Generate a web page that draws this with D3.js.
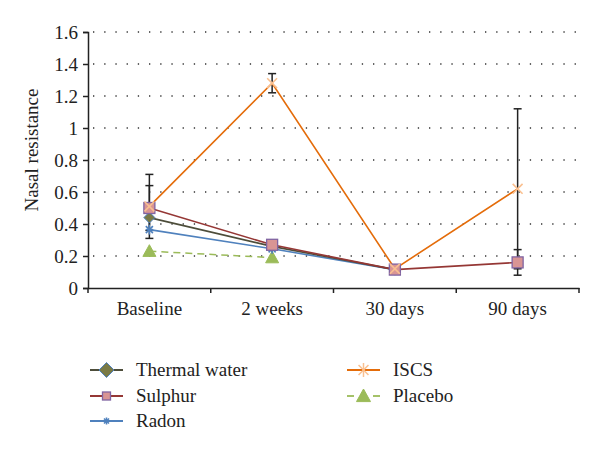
<!DOCTYPE html>
<html><head><meta charset="utf-8">
<script src="https://cdn.jsdelivr.net/npm/d3@7"></script>
<style>body{margin:0;background:#fff}svg{display:block}</style>
</head><body><svg id="c" width="600" height="454"></svg>
<script>
const categories = ["Baseline", "2 weeks", "30 days", "90 days"];
const yTicks = [0, 0.2, 0.4, 0.6, 0.8, 1, 1.2, 1.4, 1.6];
const thermalWater = [0.44, 0.26, 0.115, null];
const sulphur = [0.50, 0.27, 0.115, 0.16];
const radon = [0.365, 0.245, 0.115, null];
const iscs = [0.51, 1.28, 0.12, 0.62];
const placebo = [0.23, 0.19, null, null];
const sulphurErr = [0.14, null, null, 0.08];
const iscsErr = [0.2, 0.06, null, 0.5];

const FONT = "'Liberation Serif', Tinos, 'Times New Roman', serif";
const svg = d3.select("#c");
const x0 = 88, x1 = 579, yTop = 32, yBot = 288;
const x = d3.scaleBand().domain(categories).range([x0, x1]);
const y = d3.scaleLinear().domain([0, 1.6]).range([yBot, yTop]);
const cx = c => x(c) + x.bandwidth() / 2;

function styleText(sel) {
  return sel.style("font-family", FONT).style("font-size", "19px").attr("fill", "#222");
}

// grid
svg.append("g").selectAll("line").data(yTicks.filter(t => t > 0)).join("line")
  .attr("x1", x0 + 5).attr("x2", x1 - 3).attr("y1", d => y(d)).attr("y2", d => y(d))
  .attr("stroke", "#333").attr("stroke-width", 1.3).attr("stroke-dasharray", "1.3,9.9");

// axes
const yAxis = svg.append("g").attr("transform", `translate(${x0},0)`)
  .call(d3.axisLeft(y).tickValues(yTicks).tickFormat(d => String(d)).tickSize(5).tickPadding(5));
const xAxis = svg.append("g").attr("transform", `translate(0,${yBot})`)
  .call(d3.axisBottom(x).tickSize(0).tickPadding(14));
[yAxis, xAxis].forEach(g => {
  g.attr("font-family", null).attr("font-size", null);
  g.select(".domain").attr("stroke", "#222").attr("stroke-width", 1.5);
  g.selectAll("line").attr("stroke", "#222").attr("stroke-width", 1.5);
  styleText(g.selectAll("text"));
});
// category boundary ticks
const bounds = categories.map(c => x(c)).concat([x(categories[categories.length - 1]) + x.step()]);
svg.append("g").selectAll("line").data(bounds).join("line")
  .attr("x1", d => d).attr("x2", d => d)
  .attr("y1", yBot).attr("y2", yBot + 5).attr("stroke", "#222").attr("stroke-width", 1.5);

styleText(svg.append("text").attr("transform", `translate(38,150) rotate(-90)`).attr("text-anchor", "middle"))
  .text("Nasal resistance");

const series = [
  {name: "Thermal water", vals: thermalWater, line: "#4d4d3a", marker: "diamond", fill: "#7a7a45", stroke: "#4f81bd", dash: null},
  {name: "Sulphur", vals: sulphur, line: "#953735", marker: "square", fill: "#d99594", stroke: "#8064a2", dash: null},
  {name: "Radon", vals: radon, line: "#4f81bd", marker: "star", fill: "none", stroke: "#4f81bd", dash: null},
  {name: "ISCS", vals: iscs, line: "#e46c0a", marker: "cross", fill: "none", stroke: "#fac090", dash: null},
  {name: "Placebo", vals: placebo, line: "#9bbb59", marker: "triangle", fill: "#9bbb59", stroke: "#9bbb59", dash: "7,5"}
];

// error bars
const errs = [{vals: sulphur, err: sulphurErr}, {vals: iscs, err: iscsErr}];
const eg = svg.append("g");
errs.forEach(e => {
  categories.forEach((c, i) => {
    if (e.err[i] == null || e.vals[i] == null) return;
    const xc = cx(c), top = y(e.vals[i] + e.err[i]), bot = y(e.vals[i] - e.err[i]);
    eg.append("line").attr("x1", xc).attr("x2", xc).attr("y1", top).attr("y2", bot).attr("stroke", "#222").attr("stroke-width", 1.5);
    [top, bot].forEach(yy => eg.append("line").attr("x1", xc - 4).attr("x2", xc + 4).attr("y1", yy).attr("y2", yy).attr("stroke", "#222").attr("stroke-width", 1.5));
  });
});

function spokes(g, px, py, r, angles, color, w) {
  angles.forEach(a => {
    const dx = Math.cos(a) * r, dy = Math.sin(a) * r;
    g.append("line").attr("x1", px - dx).attr("x2", px + dx).attr("y1", py - dy).attr("y2", py + dy)
      .attr("stroke", color).attr("stroke-width", w);
  });
}
function drawMarker(g, s, px, py, legend) {
  const P = Math.PI;
  if (s.marker === "diamond") {
    const a = legend ? 7.5 : 5.5;
    g.append("path").attr("d", `M${px},${py - a}L${px + a},${py}L${px},${py + a}L${px - a},${py}Z`)
      .attr("fill", s.fill).attr("stroke", s.stroke).attr("stroke-width", 1);
  } else if (s.marker === "square") {
    const h = legend ? 4 : 5.5;
    g.append("rect").attr("x", px - h).attr("y", py - h).attr("width", 2 * h).attr("height", 2 * h)
      .attr("fill", s.fill).attr("stroke", s.stroke).attr("stroke-width", 1.3);
  } else if (s.marker === "triangle") {
    const h = legend ? 7 : 6.5;
    g.append("path").attr("d", `M${px},${py - h}L${px + h},${py + h * 0.8}L${px - h},${py + h * 0.8}Z`)
      .attr("fill", s.fill).attr("stroke", s.stroke);
  } else if (s.marker === "star") {
    const r = legend ? 3.5 : 5;
    spokes(g, px, py, r, [P / 4, 3 * P / 4, P / 2], s.stroke, 1.6);
    spokes(g, px, py, r * 0.7, [0], s.stroke, 1.6);
  } else if (s.marker === "cross") {
    if (legend) {
      spokes(g, px, py, 8, [0], s.line, 1.8);
      spokes(g, px, py, 7, [P / 4, 3 * P / 4, P / 2], s.stroke, 1.5);
    } else {
      spokes(g, px, py, 7, [P / 4, 3 * P / 4], s.stroke, 1.6);
    }
  }
}

const lg = svg.append("g");
const drawOrder = [4, 2, 0, 1, 3];
drawOrder.forEach(si => {
  const s = series[si];
  const pts = categories.map((c, i) => ({c, v: s.vals[i]}));
  const line = d3.line().defined(d => d.v != null).x(d => cx(d.c)).y(d => y(d.v));
  lg.append("path").datum(pts).attr("d", line).attr("fill", "none").attr("stroke", s.line)
    .attr("stroke-width", 1.6).attr("stroke-dasharray", s.dash);
});
drawOrder.forEach(si => {
  const s = series[si];
  categories.forEach((c, i) => { if (s.vals[i] != null) drawMarker(lg, s, cx(c), y(s.vals[i]), false); });
});

// legend
const legPos = [[90, 370], [90, 396], [90, 421], [347, 370], [347, 396]];
const leg = svg.append("g");
series.forEach((s, i) => {
  const [lx, ly] = legPos[i];
  if (s.dash) {
    leg.append("line").attr("x1", lx).attr("x2", lx + 7).attr("y1", ly).attr("y2", ly).attr("stroke", s.line).attr("stroke-width", 1.8);
    leg.append("line").attr("x1", lx + 26).attr("x2", lx + 33).attr("y1", ly).attr("y2", ly).attr("stroke", s.line).attr("stroke-width", 1.8);
  } else {
    leg.append("line").attr("x1", lx).attr("x2", lx + 33).attr("y1", ly).attr("y2", ly)
      .attr("stroke", s.line).attr("stroke-width", 1.8);
  }
  drawMarker(leg, s, lx + 16.5, ly, true);
  styleText(leg.append("text").attr("x", i < 3 ? 136 : 393).attr("y", ly + 6)).text(s.name);
});
</script></body></html>
